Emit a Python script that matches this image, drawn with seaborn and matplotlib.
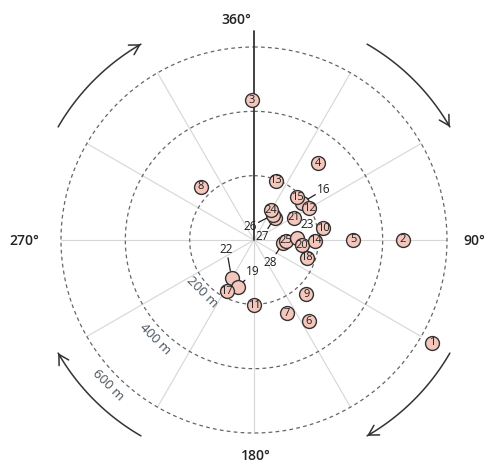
import numpy as np
import pandas as pd
import seaborn as sns
import matplotlib.pyplot as plt

# ---------------- data ----------------
point_ids = [1, 2, 3, 4, 5, 6, 7, 8, 9, 10, 11, 12, 13, 14,
             15, 16, 17, 18, 19, 20, 21, 22, 23, 24, 25, 26, 27, 28]
bearing_deg = [120, 90, 359, 40, 90, 146, 156, 315, 136, 80.4, 180, 60, 20, 90.7,
               45, 52, 208, 108.7, 198.6, 96, 60.7, 210.9, 87.7, 30, 91.3, 37, 43, 96]
distance_m = [640, 462, 435, 311, 309, 304, 250, 234, 234, 219, 203, 198, 196, 190,
              189, 189, 180, 173, 154, 149, 142, 136, 134, 106, 98, 98, 94, 91]
ring_radii = [200, 400, 600]
ring_labels = ["200 m", "400 m", "600 m"]
direction_labels = ["360°", "90°", "180°", "270°"]

# labels drawn outside their (hidden) circle with a leader line: offset in pixels
leader_offsets = {16: (22, -13), 19: (15, -15), 22: (-5, -28), 23: (10, -14),
                  26: (-23, 12), 27: (-12, 19), 28: (-12.5, 19)}

# ---------------- style ----------------
sns.set_style("white")
plt.rcParams['font.family'] = ['Open Sans', 'DejaVu Sans']

W, H = 489, 466
fig = plt.figure(figsize=(W / 100, H / 100), dpi=100)
cx, cy = 254, 240          # centre in pixels (from top-left)
RMAX = 700
R = RMAX * 0.3217          # axes radius in pixels
ax = fig.add_axes([(cx - R) / W, (H - cy - R) / H, 2 * R / W, 2 * R / H],
                  projection='polar')
ax.set_theta_zero_location('N')
ax.set_theta_direction(-1)
ax.grid(False)
ax.spines['polar'].set_visible(False)
ax.set_xticks([])
ax.set_yticks([])
ax.patch.set_alpha(0)

# radial grid lines
for a in range(30, 360, 30):
    ax.plot([np.deg2rad(a)] * 2, [0, 600], color='#d6d6d6', lw=0.8, zorder=1)
ax.plot([0, 0], [0, 650], color='#333333', lw=1.3, zorder=1.5)

# dashed rings
th = np.linspace(0, 2 * np.pi, 500)
for r in ring_radii:
    ax.plot(th, np.full_like(th, r), color='#666666', lw=0.9,
            ls=(0, (3, 2.6)), zorder=1.2)

# ring labels along 225°
for r, lab in zip([229, 436, 640], ring_labels):
    ax.text(np.deg2rad(225), r, lab, rotation=-45, rotation_mode='anchor',
            ha='center', va='center', fontsize=9.5, color='#4a545d', zorder=3)

# data
df = pd.DataFrame({'id': point_ids, 'theta': np.deg2rad(bearing_deg),
                   'dist': distance_m}).sort_values('id', ascending=False)
sns.scatterplot(data=df, x='theta', y='dist', ax=ax, s=100, color='#f5c7bc',
                edgecolor='#333333', linewidth=1.0, zorder=4, legend=False)
ax.set_xlabel('')
ax.set_ylabel('')
ax.set_ylim(0, RMAX)

for i, t, d in zip(point_ids, np.deg2rad(bearing_deg), distance_m):
    if i in leader_offsets:
        dx, dy = leader_offsets[i]
        ax.annotate(str(i), xy=(t, d), xytext=(dx, -dy), textcoords='offset pixels',
                    ha='center', va='center', fontsize=8.5, color='#1e1e1e',
                    bbox=dict(boxstyle='square,pad=0.15', fc='none', ec='none'),
                    arrowprops=dict(arrowstyle='-', color='#222222', lw=0.9,
                                    shrinkA=0, shrinkB=5),
                    zorder=6)
    else:
        ax.text(t, d, str(i), ha='center', va='center', fontsize=8,
                color='#1e1e1e', zorder=5)

# curved clockwise arrows
RA = 703
for start in [30, 120, 210, 300]:
    ta = np.deg2rad(np.linspace(start, start + 30, 80))
    ax.plot(ta, np.full_like(ta, RA), color='#333333', lw=1.1, clip_on=False)
    ax.annotate('', xy=(ta[-1], RA), xytext=(ta[-4], RA),
                arrowprops=dict(arrowstyle='->,head_length=0.7,head_width=0.4',
                                color='#333333', lw=1.1, shrinkA=0, shrinkB=0),
                annotation_clip=False)

# direction labels (figure pixels)
for lab, (px, py) in zip(direction_labels,
                         [(236, 20), (474, 241), (256, 456), (24, 241)]):
    fig.text(px / W, 1 - py / H, lab, ha='center', va='center', fontsize=10,
             fontweight='semibold', color='#222222')

fig.savefig('out.png', dpi=100)
